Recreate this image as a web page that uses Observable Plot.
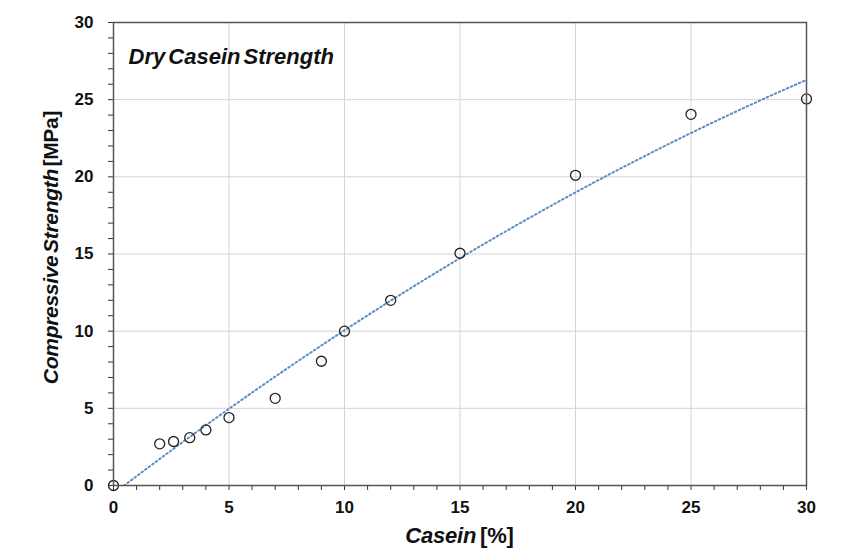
<!DOCTYPE html>
<html><head><meta charset="utf-8">
<script src="https://cdn.jsdelivr.net/npm/d3@7"></script>
<script src="https://cdn.jsdelivr.net/npm/@observablehq/plot@0.6"></script>
<style>body{margin:0;background:#fff;}</style>
</head><body><div id="chart"></div>
<script>
const casein   = [0, 2, 2.6, 3.3, 4, 5, 7, 9, 10, 12, 15, 20, 25, 30];
const strength = [0, 2.7, 2.85, 3.1, 3.6, 4.4, 5.65, 8.05, 10, 12, 15.05, 20.1, 24.05, 25.05];
const majorTicks = [0, 5, 10, 15, 20, 25, 30];
const minorTicks = [1,2,3,4,6,7,8,9,11,12,13,14,16,17,18,19,21,22,23,24,26,27,28,29];
const titleText = "Dry Casein Strength";
const xLabelItalic = "Casein", xLabelRest = " [%]";
const yLabelItalic = "Compressive Strength", yLabelRest = " [MPa]";

const points = casein.map((c, i) => ({x: c, y: strength[i]}));

// 2nd-order polynomial least-squares trendline computed from the data
function polyFit2(xs, ys) {
  let S = [0,0,0,0,0], T = [0,0,0];
  xs.forEach((x, i) => {
    for (let k = 0; k < 5; k++) S[k] += x ** k;
    for (let k = 0; k < 3; k++) T[k] += ys[i] * x ** k;
  });
  const A = [[S[0],S[1],S[2],T[0]],[S[1],S[2],S[3],T[1]],[S[2],S[3],S[4],T[2]]];
  for (let i = 0; i < 3; i++) {
    for (let j = i + 1; j < 3; j++) {
      const f = A[j][i] / A[i][i];
      for (let k = i; k < 4; k++) A[j][k] -= f * A[i][k];
    }
  }
  const c = [0,0,0];
  for (let i = 2; i >= 0; i--) {
    let s = A[i][3];
    for (let k = i + 1; k < 3; k++) s -= A[i][k] * c[k];
    c[i] = s / A[i][i];
  }
  return c;
}
const coef = polyFit2(casein, strength);
const trend = d3.range(0, 30.001, 0.1).map(x => ({x, y: coef[0] + coef[1]*x + coef[2]*x*x}));

const font = "'Liberation Sans', Arial, sans-serif";
const W = 849, H = 560;
const svg = Plot.plot({
  width: W, height: H,
  marginLeft: 113, marginRight: 43, marginTop: 22, marginBottom: 75,
  style: {fontFamily: font, fontSize: "17px", fontWeight: "bold", color: "#111", background: "#fff"},
  x: {domain: [0, 30]},
  y: {domain: [0, 30]},
  marks: [
    Plot.gridX(majorTicks, {stroke: "#d4d4d4", strokeOpacity: 1, strokeWidth: 1}),
    Plot.gridY(majorTicks, {stroke: "#d4d4d4", strokeOpacity: 1, strokeWidth: 1}),
    Plot.axisX(minorTicks, {tickSize: 5, tickFormat: () => "", stroke: "#333", label: null}),
    Plot.axisY(minorTicks, {tickSize: 5, tickFormat: () => "", stroke: "#333", label: null}),
    Plot.axisX(majorTicks, {tickSize: 5, tickPadding: 10, stroke: "#333", label: null, fill: "#111"}),
    Plot.axisY(majorTicks, {tickSize: 5, tickPadding: 15, stroke: "#333", label: null, fill: "#111"}),
    Plot.line(trend, {x: "x", y: "y", stroke: "#5d8cc2", strokeWidth: 2, strokeDasharray: "1.6,2.8", clip: true}),
    Plot.dot(points, {x: "x", y: "y", r: 5, stroke: "#222", strokeWidth: 1.3, fill: "none"}),
    Plot.frame({stroke: "#555", strokeWidth: 1.5}),
    Plot.text([titleText], {frameAnchor: "top-left", textAnchor: "start", lineAnchor: "middle", dx: 15, dy: 34,
      fontSize: 22, fontWeight: "bold", fontStyle: "italic", fill: "#111"})
  ]
});

const xs = svg.scale("x"), ys = svg.scale("y");
const cx = (xs.range[0] + xs.range[1]) / 2;
const cy = (ys.range[0] + ys.range[1]) / 2;
const g = d3.select(svg);
g.selectAll("text").filter(function() { return this.textContent === titleText; })
  .style("word-spacing", "-3px");
const xl = g.append("text").attr("x", cx).attr("y", 543).attr("text-anchor", "middle")
  .attr("font-size", 22).attr("font-weight", "bold").attr("fill", "#111")
  .style("letter-spacing", "-0.2px").style("word-spacing", "-2px");
xl.append("tspan").attr("font-style", "italic").text(xLabelItalic);
xl.append("tspan").text(xLabelRest);
const yl = g.append("text").attr("transform", `translate(58,${cy - 6}) rotate(-90)`).attr("text-anchor", "middle")
  .attr("font-size", 21).attr("font-weight", "bold").attr("fill", "#111")
  .style("letter-spacing", "-0.3px").style("word-spacing", "-3px");
yl.append("tspan").attr("font-style", "italic").text(yLabelItalic);
yl.append("tspan").text(yLabelRest);

document.getElementById("chart").append(svg);
</script>
</body></html>
